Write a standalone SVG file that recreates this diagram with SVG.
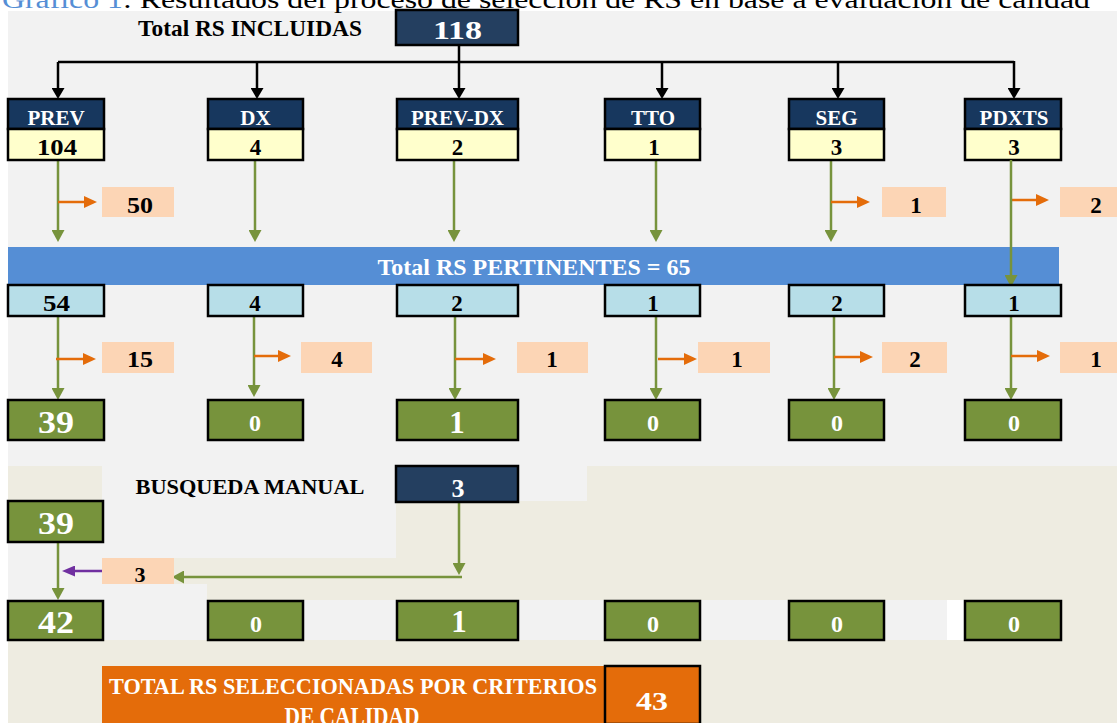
<svg xmlns="http://www.w3.org/2000/svg" width="1117" height="723" viewBox="0 0 1117 723">
<defs>
<style>
text{font-family:"Liberation Serif","Times New Roman",serif;font-weight:bold;text-anchor:middle}
.w{fill:#fff}.k{fill:#000}
.bd{stroke:#000;stroke-width:2.5}
.navy{fill:#17375E}.navy2{fill:#243F60}.yel{fill:#FFFFCC}.lb{fill:#B7DEE8}.gr{fill:#77933C}.pe{fill:#FCD5B5}
.hl{font-size:21px}.n23{font-size:23px}.n24{font-size:24px}.n31{font-size:31px}
.cb{stroke:#000;stroke-width:2.5;fill:none}
.cg{stroke:#77933C;stroke-width:2.5;fill:none}
.co{stroke:#E46C0A;stroke-width:2.5;fill:none}
.cp{stroke:#7030A0;stroke-width:2.5;fill:none}
.cap{font-weight:normal;text-anchor:start;font-size:26px}
</style>
<marker id="ab" markerUnits="userSpaceOnUse" markerWidth="11" markerHeight="13" refX="2" refY="6.5" orient="auto"><path d="M0,0L11,6.5L0,13Z" fill="#000"/></marker>
<marker id="ag" markerUnits="userSpaceOnUse" markerWidth="12" markerHeight="13" refX="2" refY="6.5" orient="auto"><path d="M0,0L12,6.5L0,13Z" fill="#77933C"/></marker>
<marker id="ao" markerUnits="userSpaceOnUse" markerWidth="13" markerHeight="12" refX="2" refY="6" orient="auto"><path d="M0,0L13,6L0,12Z" fill="#E46C0A"/></marker>
<marker id="ap" markerUnits="userSpaceOnUse" markerWidth="13" markerHeight="11" refX="2" refY="5.5" orient="auto"><path d="M0,0L13,5.5L0,11Z" fill="#7030A0"/></marker>
</defs>

<g id="background">
<rect width="1117" height="723" fill="#fff"/>
<rect x="8" y="11" width="1109" height="712" fill="#F2F2F2"/>
<path fill="#EEECE1" d="M8,466H102V501H8Z M587,466H1117V600H207V584H174V558H396V501H587Z M1061,600H1117V640H1061Z M8,640H1117V723H8Z"/>
<rect x="947" y="600" width="18" height="40" fill="#fff"/>
</g>

<g id="caption">
<text class="cap" x="2" y="8" fill="#000" textLength="1088" lengthAdjust="spacingAndGlyphs"><tspan fill="#558ED5">Gráfico 1</tspan>: Resultados del proceso de selección de RS en base a evaluación de calidad</text>
</g>

<g id="connectors">
<path class="cb" d="M459,45V62M58,62H1014"/>
<line class="cb" x1="58" y1="62" x2="58" y2="90" marker-end="url(#ab)"/>
<line class="cb" x1="257" y1="62" x2="257" y2="90" marker-end="url(#ab)"/>
<line class="cb" x1="459" y1="62" x2="459" y2="90" marker-end="url(#ab)"/>
<line class="cb" x1="662" y1="62" x2="662" y2="90" marker-end="url(#ab)"/>
<line class="cb" x1="838" y1="62" x2="838" y2="90" marker-end="url(#ab)"/>
<line class="cb" x1="1014" y1="61" x2="1014" y2="90" marker-end="url(#ab)"/>

<line class="cg" x1="58" y1="160" x2="58" y2="232" marker-end="url(#ag)"/>
<line class="cg" x1="255" y1="160" x2="255" y2="232" marker-end="url(#ag)"/>
<line class="cg" x1="454" y1="160" x2="454" y2="232" marker-end="url(#ag)"/>
<line class="cg" x1="656" y1="160" x2="656" y2="232" marker-end="url(#ag)"/>
<line class="cg" x1="831" y1="160" x2="831" y2="232" marker-end="url(#ag)"/>

<line class="co" x1="58" y1="202" x2="86" y2="202" marker-end="url(#ao)"/>
<line class="co" x1="831" y1="202" x2="859" y2="202" marker-end="url(#ao)"/>
<line class="co" x1="1011" y1="200" x2="1038" y2="200" marker-end="url(#ao)"/>

<line class="cg" x1="58" y1="316" x2="58" y2="390" marker-end="url(#ag)"/>
<line class="cg" x1="254" y1="316" x2="254" y2="387" marker-end="url(#ag)"/>
<line class="cg" x1="455" y1="316" x2="455" y2="390" marker-end="url(#ag)"/>
<line class="cg" x1="656" y1="316" x2="656" y2="390" marker-end="url(#ag)"/>
<line class="cg" x1="834" y1="316" x2="834" y2="390" marker-end="url(#ag)"/>
<line class="cg" x1="1011" y1="316" x2="1011" y2="390" marker-end="url(#ag)"/>

<line class="co" x1="56" y1="359" x2="85" y2="359" marker-end="url(#ao)"/>
<line class="co" x1="254" y1="356" x2="280" y2="356" marker-end="url(#ao)"/>
<line class="co" x1="455" y1="359" x2="485" y2="359" marker-end="url(#ao)"/>
<line class="co" x1="658" y1="359" x2="686" y2="359" marker-end="url(#ao)"/>
<line class="co" x1="834" y1="357" x2="862" y2="357" marker-end="url(#ao)"/>
<line class="co" x1="1011" y1="356" x2="1039" y2="356" marker-end="url(#ao)"/>

<line class="cg" x1="58" y1="542" x2="58" y2="590" marker-end="url(#ag)"/>
<line class="cg" x1="459" y1="502" x2="459" y2="565" marker-end="url(#ag)"/>
<line class="cg" x1="462" y1="577" x2="182" y2="577" marker-end="url(#ag)"/>
<line class="cp" x1="115" y1="571" x2="73" y2="571" marker-end="url(#ap)"/>
</g>

<g id="node-total-incluidas">
<text class="k" x="250" y="36" font-size="23" textLength="224" lengthAdjust="spacingAndGlyphs">Total RS INCLUIDAS</text>
<rect class="navy2 bd" x="396" y="10" width="122" height="35"/>
<text class="w" x="457.5" y="39" font-size="26" textLength="49" lengthAdjust="spacingAndGlyphs">118</text>
</g>

<g id="node-prev">
<rect class="navy bd" x="8" y="99" width="96" height="30"/>
<rect class="yel bd" x="8" y="129" width="96" height="31"/>
<text class="w hl" x="56" y="125">PREV</text>
<text class="k n23" x="57" y="155" textLength="40" lengthAdjust="spacingAndGlyphs">104</text>
</g>
<g id="node-dx">
<rect class="navy bd" x="208" y="99" width="95" height="30"/>
<rect class="yel bd" x="208" y="129" width="95" height="31"/>
<text class="w hl" x="255.5" y="125">DX</text>
<text class="k n23" x="255.5" y="155">4</text>
</g>
<g id="node-prevdx">
<rect class="navy bd" x="397" y="99" width="121" height="30"/>
<rect class="yel bd" x="397" y="129" width="121" height="31"/>
<text class="w hl" x="457.5" y="125">PREV-DX</text>
<text class="k n23" x="457.5" y="155">2</text>
</g>
<g id="node-tto">
<rect class="navy bd" x="605" y="99" width="95" height="30"/>
<rect class="yel bd" x="605" y="129" width="95" height="31"/>
<text class="w hl" x="653" y="125">TTO</text>
<text class="k n23" x="654" y="155">1</text>
</g>
<g id="node-seg">
<rect class="navy bd" x="789" y="99" width="95" height="30"/>
<rect class="yel bd" x="789" y="129" width="95" height="31"/>
<text class="w hl" x="836.5" y="125">SEG</text>
<text class="k n23" x="836.5" y="155">3</text>
</g>
<g id="node-pdxts">
<rect class="navy bd" x="965" y="99" width="96" height="30"/>
<rect class="yel bd" x="965" y="129" width="96" height="31"/>
<text class="w hl" x="1014" y="125">PDXTS</text>
<text class="k n23" x="1014" y="155">3</text>
</g>

<g id="excluded-1">
<rect class="pe" x="102" y="187" width="72" height="30"/>
<text class="k n23" x="140" y="213" textLength="26" lengthAdjust="spacingAndGlyphs">50</text>
<rect class="pe" x="882" y="187" width="64" height="30"/>
<text class="k n23" x="916" y="213">1</text>
<rect class="pe" x="1060" y="187" width="57" height="30"/>
<text class="k n23" x="1096" y="213">2</text>
</g>

<g id="node-pertinentes">
<rect x="8" y="247" width="1051" height="38" fill="#558ED5"/>
<text class="w" x="534" y="275" font-size="23" textLength="313" lengthAdjust="spacingAndGlyphs">Total RS PERTINENTES = 65</text>
</g>
<line class="cg" x1="1011" y1="160" x2="1011" y2="277" marker-end="url(#ag)"/>

<g id="pertinentes-row">
<rect class="lb bd" x="8" y="285" width="96" height="31"/>
<text class="k n23" x="56.5" y="311" textLength="27" lengthAdjust="spacingAndGlyphs">54</text>
<rect class="lb bd" x="208" y="285" width="95" height="31"/>
<text class="k n23" x="255" y="311">4</text>
<rect class="lb bd" x="397" y="285" width="121" height="31"/>
<text class="k n23" x="457" y="311">2</text>
<rect class="lb bd" x="605" y="285" width="95" height="31"/>
<text class="k n23" x="653" y="311">1</text>
<rect class="lb bd" x="789" y="285" width="95" height="31"/>
<text class="k n23" x="837" y="311">2</text>
<rect class="lb bd" x="965" y="285" width="96" height="31"/>
<text class="k n23" x="1014" y="311">1</text>
</g>

<g id="excluded-2">
<rect class="pe" x="102" y="342" width="72" height="31"/>
<text class="k n23" x="140" y="367" textLength="26" lengthAdjust="spacingAndGlyphs">15</text>
<rect class="pe" x="301" y="342" width="71" height="31"/>
<text class="k n23" x="337" y="367">4</text>
<rect class="pe" x="517" y="342" width="71" height="31"/>
<text class="k n23" x="552" y="367">1</text>
<rect class="pe" x="698" y="342" width="72" height="31"/>
<text class="k n23" x="737" y="367">1</text>
<rect class="pe" x="882" y="342" width="65" height="31"/>
<text class="k n23" x="915" y="367">2</text>
<rect class="pe" x="1060" y="342" width="57" height="31"/>
<text class="k n23" x="1096" y="367">1</text>
</g>

<g id="selected-row">
<rect class="gr bd" x="8" y="400" width="96" height="40"/>
<text class="w n31" x="56" y="433" textLength="36" lengthAdjust="spacingAndGlyphs">39</text>
<rect class="gr bd" x="208" y="400" width="95" height="40"/>
<text class="w n24" x="255" y="431">0</text>
<rect class="gr bd" x="397" y="400" width="121" height="40"/>
<text class="w n31" x="457" y="433">1</text>
<rect class="gr bd" x="605" y="400" width="95" height="40"/>
<text class="w n24" x="653" y="431">0</text>
<rect class="gr bd" x="789" y="400" width="95" height="40"/>
<text class="w n24" x="837" y="431">0</text>
<rect class="gr bd" x="965" y="400" width="96" height="40"/>
<text class="w n24" x="1014" y="431">0</text>
</g>

<g id="node-busqueda-manual">
<text class="k" x="250" y="494" font-size="22" textLength="229" lengthAdjust="spacingAndGlyphs">BUSQUEDA MANUAL</text>
<rect class="navy2 bd" x="396" y="466" width="122" height="36"/>
<text class="w" x="458" y="497" font-size="26">3</text>
</g>

<g id="node-39b">
<rect class="gr bd" x="8" y="501" width="95" height="41"/>
<text class="w n31" x="56" y="534" textLength="36" lengthAdjust="spacingAndGlyphs">39</text>
</g>

<g id="node-added">
<rect class="pe" x="102" y="558" width="72" height="26"/>
<text class="k" x="140" y="582" font-size="22">3</text>
</g>

<g id="final-row">
<rect class="gr bd" x="8" y="601" width="95" height="39"/>
<text class="w n31" x="56" y="633" textLength="36" lengthAdjust="spacingAndGlyphs">42</text>
<rect class="gr bd" x="208" y="601" width="95" height="39"/>
<text class="w n24" x="256" y="632">0</text>
<rect class="gr bd" x="397" y="601" width="121" height="39"/>
<text class="w n31" x="459" y="632">1</text>
<rect class="gr bd" x="605" y="601" width="95" height="39"/>
<text class="w n24" x="653" y="632">0</text>
<rect class="gr bd" x="789" y="601" width="95" height="39"/>
<text class="w n24" x="837" y="632">0</text>
<rect class="gr bd" x="965" y="601" width="96" height="39"/>
<text class="w n24" x="1014" y="632">0</text>
</g>

<g id="node-total-seleccionadas">
<rect x="102" y="666" width="503" height="57" fill="#E46C0A"/>
<rect class="bd" x="605" y="666" width="95" height="58" fill="#E46C0A"/>
<text class="w" x="353" y="694" font-size="24" textLength="488" lengthAdjust="spacingAndGlyphs">TOTAL RS SELECCIONADAS POR CRITERIOS</text>
<text class="w" x="352" y="725" font-size="25" textLength="135" lengthAdjust="spacingAndGlyphs">DE CALIDAD</text>
<text class="w" x="652" y="710" font-size="26" textLength="32" lengthAdjust="spacingAndGlyphs">43</text>
</g>
</svg>
